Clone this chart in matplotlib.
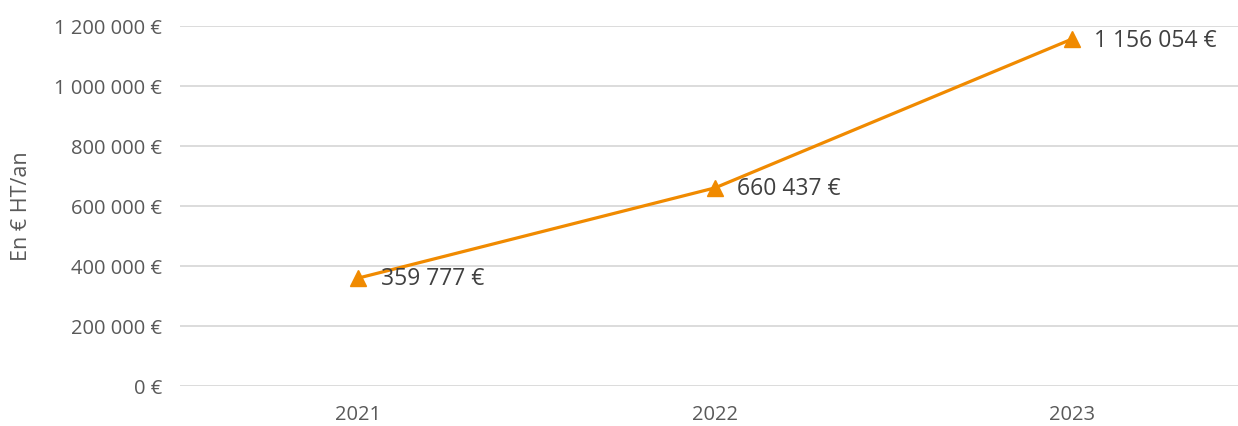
import numpy as np
import matplotlib
matplotlib.use('Agg')
import matplotlib.pyplot as plt

annees = ['2021', '2022', '2023']
montants = [359777, 660437, 1156054]
graduations = [0, 200000, 400000, 600000, 800000, 1000000, 1200000]

orange = '#F08A00'
gris_texte = '#595959'

def format_euro(v):
    # separateur de milliers en espace, a la francaise
    return '{:,}'.format(int(v)).replace(',', ' ') + ' €'

plt.rcParams['font.family'] = ['Open Sans', 'DejaVu Sans']

fig = plt.figure(figsize=(12.38, 4.26), dpi=100)
ax = fig.add_axes([180 / 1238, 40 / 426, 1070 / 1238, 360 / 426])

pos = np.arange(len(annees))
ax.plot(pos, montants, color=orange, linewidth=2.3, marker='^',
        markersize=11, zorder=3)

for i in range(len(annees)):
    ax.annotate(format_euro(montants[i]), (pos[i], montants[i]),
                xytext=(16, -1), textcoords='offset points',
                va='center', ha='left', fontsize=16.5, color='#404040')

ax.set_xlim(-0.5, 2.5)
ax.set_ylim(0, 1200000)
ax.set_yticks(graduations)
ax.set_yticklabels([format_euro(g) for g in graduations])
ax.set_xticks(pos)
ax.set_xticklabels(annees)

ax.grid(axis='y', color='#D9D9D9', linewidth=1.3)
ax.set_axisbelow(True)
for s in ax.spines.values():
    s.set_visible(False)
ax.tick_params(axis='both', length=0, labelsize=14.5, colors=gris_texte)
ax.tick_params(axis='y', pad=13)
ax.tick_params(axis='x', pad=14)

ax.set_ylabel('En € HT/an', fontsize=15.5, color=gris_texte)
ax.yaxis.set_label_coords(-148 / 1070, 0.5)

fig.savefig('out.png', dpi=100)
